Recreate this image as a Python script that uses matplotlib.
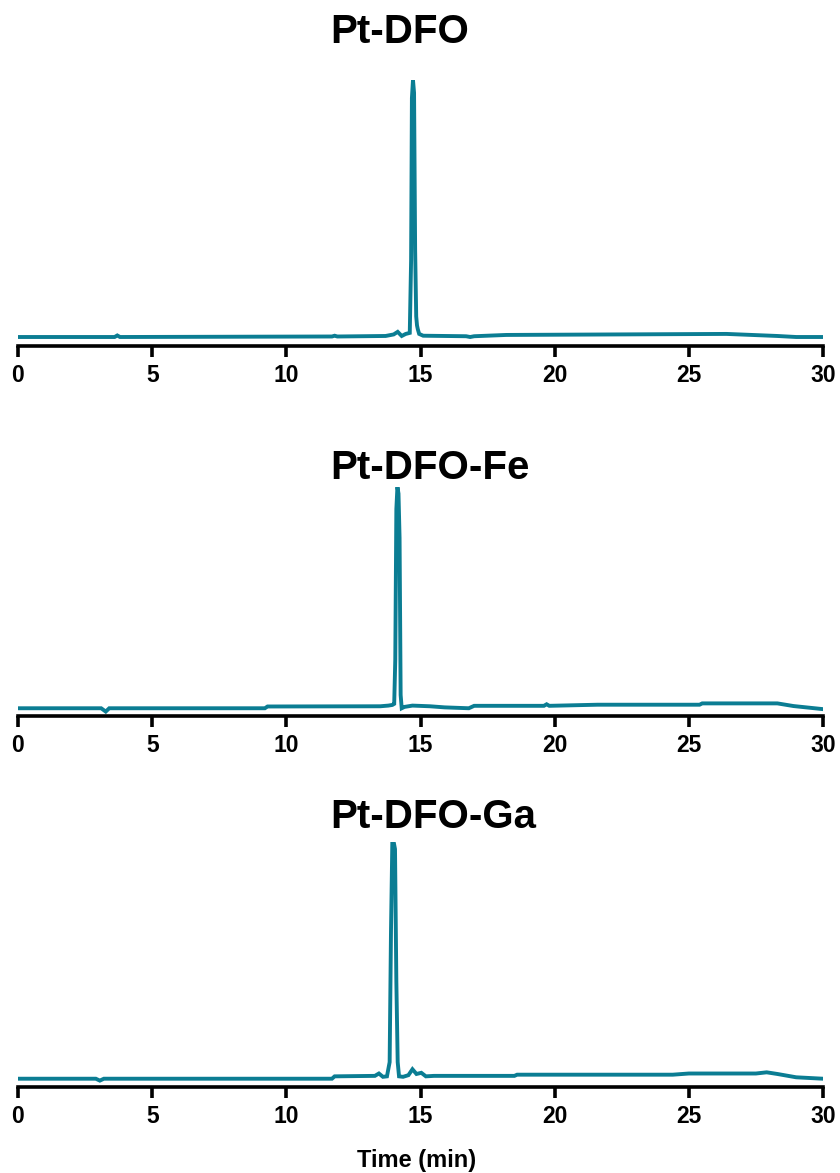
import numpy as np
import matplotlib.pyplot as plt

plt.rcParams['font.family'] = ['Liberation Sans', 'DejaVu Sans']

# HPLC traces, normalised absorbance (peak = 1)
titles = ['Pt-DFO', 'Pt-DFO-Fe', 'Pt-DFO-Ga']

t_dfo = [0, 3.6, 3.7, 3.8, 11.7, 11.8, 11.9, 13.7, 14.0, 14.15, 14.3, 14.45,
         14.6, 14.65, 14.68, 14.72, 14.76, 14.80, 14.84, 14.87, 14.9, 14.95,
         15.1, 16.7, 16.85, 17.0, 18.2, 26.4, 28.3, 29.0, 30]
v_dfo = [0.000, 0.000, 0.006, 0.000, 0.002, 0.005, 0.002, 0.004, 0.010, 0.020,
         0.004, 0.012, 0.016, 0.30, 0.93, 1.0, 0.95, 0.34, 0.08, 0.045, 0.03,
         0.012, 0.005, 0.003, 0.000, 0.003, 0.008, 0.012, 0.004, 0.000, 0.000]

t_fe = [0, 3.1, 3.27, 3.4, 9.2, 9.3, 13.5, 13.8, 13.95, 14.02, 14.06, 14.10,
        14.14, 14.18, 14.22, 14.26, 14.30, 14.4, 14.7, 15.35, 15.9, 16.8, 17.0,
        19.6, 19.7, 19.8, 21.6, 25.4, 25.5, 28.3, 28.9, 30]
v_fe = [0.0, 0.0, -0.015, 0.0, 0.0, 0.008, 0.009, 0.012, 0.015, 0.02, 0.22,
        0.9, 1.0, 0.97, 0.77, 0.06, 0.0, 0.006, 0.012, 0.009, 0.004, 0.0,
        0.011, 0.011, 0.018, 0.011, 0.016, 0.016, 0.022, 0.022, 0.010, -0.004]

t_ga = [0, 2.9, 3.05, 3.2, 11.7, 11.8, 13.3, 13.45, 13.6, 13.75, 13.85, 13.9,
        13.95, 14.0, 14.05, 14.1, 14.15, 14.2, 14.35, 14.55, 14.7, 14.85,
        15.03, 15.2, 15.5, 16.0, 18.5, 18.6, 24.4, 25.0, 27.5, 27.9, 28.3,
        29.0, 30]
v_ga = [0.0, 0.0, -0.008, 0.0, 0.0, 0.01, 0.012, 0.022, 0.008, 0.01, 0.07,
        0.62, 1.0, 1.0, 0.97, 0.41, 0.07, 0.01, 0.008, 0.015, 0.04, 0.02,
        0.025, 0.01, 0.012, 0.012, 0.012, 0.017, 0.017, 0.022, 0.022, 0.027,
        0.02, 0.006, 0.0]

traces = [(t_dfo, v_dfo), (t_fe, v_fe), (t_ga, v_ga)]
xticks = [0, 5, 10, 15, 20, 25, 30]

color = '#0B7D93'
W, H = 840, 1173

# (top px, bottom px) of each panel and title baseline px
panels = [(80, 346), (487, 716), (842, 1087)]
title_base = [43, 479, 828]

fig = plt.figure(figsize=(W / 100, H / 100), dpi=100)

for (top, bot), tb, title, (t, v) in zip(panels, title_base, titles, traces):
    ax = fig.add_axes([18 / W, 1 - bot / H, 805 / W, (bot - top) / H])
    ax.plot(t, v, color=color, lw=2.8, solid_joinstyle='miter')
    ax.set_xlim(0, 30)
    ax.set_ylim(-0.035, 1.0)
    for s in ['left', 'right', 'top']:
        ax.spines[s].set_visible(False)
    ax.spines['bottom'].set_linewidth(2.6)
    ax.set_yticks([])
    ax.set_xticks(xticks)
    ax.tick_params(axis='x', direction='out', length=8, width=2.6, pad=5,
                   labelsize=16.5)
    for lab in ax.get_xticklabels():
        lab.set_fontweight('bold')
    ax.patch.set_alpha(0)
    fig.text(330 / W, 1 - tb / H, title, fontsize=29, fontweight='bold',
             ha='left', va='baseline')

fig.text(417 / W, 1 - 1167 / H, 'Time (min)', fontsize=17, fontweight='bold',
         ha='center', va='baseline')

fig.savefig('out.png', dpi=100)
